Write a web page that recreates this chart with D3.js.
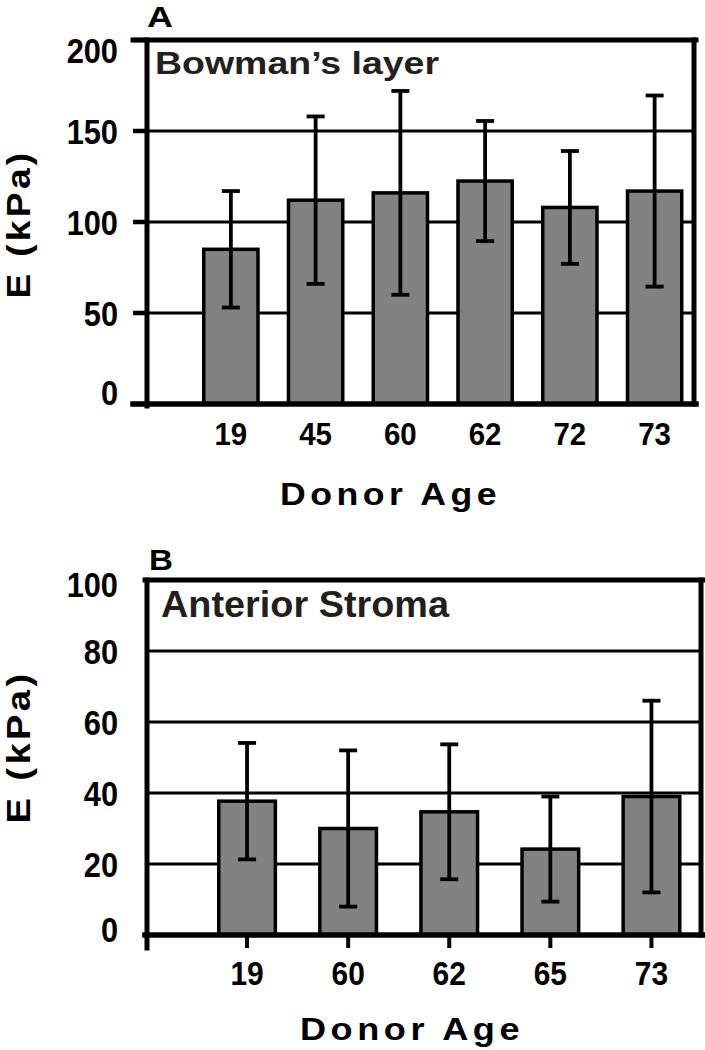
<!DOCTYPE html>
<html>
<head>
<meta charset="utf-8">
<script src="https://cdn.jsdelivr.net/npm/d3@7/dist/d3.min.js"></script>
<style>
  html, body { margin: 0; padding: 0; background: #fff; }
  svg { display: block; }
  text { font-family: "Liberation Sans", Arial, Helvetica, sans-serif; font-weight: bold; }
</style>
</head>
<body>
<svg id="chart" width="705" height="1050"></svg>
<script>
// ---------- Data ----------
const agesA = ["19", "45", "60", "62", "72", "73"];
const meanA = [85, 112, 116, 122.5, 108, 117];
const errA  = [32, 46, 56, 33, 31, 52.5];
const ticksA = [0, 50, 100, 150, 200];

const agesB = ["19", "60", "62", "65", "73"];
const meanB = [37.7, 30, 34.7, 24.2, 39];
const errB  = [16.4, 22, 19, 14.8, 27];
const ticksB = [0, 20, 40, 60, 80, 100];

const svg = d3.select("#chart");

function panel(cfg) {
  const g = svg.append("g");
  const y = d3.scaleLinear().domain([0, cfg.max]).range([cfg.bottom, cfg.top]);
  const x = d3.scaleBand().domain(cfg.ages).range([cfg.xStart, cfg.xEnd])
    .paddingInner(cfg.padIn).paddingOuter(cfg.padIn / 2);

  // gridlines (inner)
  g.selectAll(".grid").data(cfg.ticks.filter(t => t > 0 && t < cfg.max)).join("line")
    .attr("x1", cfg.axisX).attr("x2", cfg.rightX)
    .attr("y1", d => y(d)).attr("y2", d => y(d))
    .attr("stroke", "#000").attr("stroke-width", 3);

  // left ticks (panel A style)
  if (cfg.leftTicks) {
    g.selectAll(".lt").data(cfg.ticks).join("line")
      .attr("x1", cfg.tickLeft).attr("x2", cfg.axisX)
      .attr("y1", d => y(d)).attr("y2", d => y(d))
      .attr("stroke", "#000").attr("stroke-width", 4.5);
  }

  // bars
  const data = cfg.ages.map((a, i) => ({ a, m: cfg.mean[i], e: cfg.err[i] }));
  g.selectAll(".bar").data(data).join("rect")
    .attr("x", d => x(d.a)).attr("width", x.bandwidth())
    .attr("y", d => y(d.m)).attr("height", d => y(0) - y(d.m))
    .attr("fill", "#828282").attr("stroke", "#000").attr("stroke-width", 3.5);

  // error bars
  const cx = d => x(d.a) + x.bandwidth() / 2;
  g.selectAll(".ev").data(data).join("line")
    .attr("x1", cx).attr("x2", cx)
    .attr("y1", d => y(d.m - d.e)).attr("y2", d => y(d.m + d.e))
    .attr("stroke", "#000").attr("stroke-width", 3.8);
  ["p", "n"].forEach(s => {
    g.selectAll(".cap" + s).data(data).join("line")
      .attr("x1", d => cx(d) - 9).attr("x2", d => cx(d) + 9)
      .attr("y1", d => y(s === "p" ? d.m + d.e : d.m - d.e))
      .attr("y2", d => y(s === "p" ? d.m + d.e : d.m - d.e))
      .attr("stroke", "#000").attr("stroke-width", 3.8);
  });

  // frame
  const line = (x1, y1, x2, y2, w) => g.append("line")
    .attr("x1", x1).attr("y1", y1).attr("x2", x2).attr("y2", y2)
    .attr("stroke", "#000").attr("stroke-width", w).attr("stroke-linecap", "square");
  line(cfg.frameLeft, cfg.top, cfg.frameRight, cfg.top, 5);
  line(cfg.frameLeft, cfg.bottom, cfg.frameRight, cfg.bottom, 5.5);
  line(cfg.axisX, cfg.top, cfg.axisX, cfg.axisBottom, 5);
  line(cfg.rightX, cfg.top, cfg.rightX, cfg.bottom, 5);

  // bottom ticks (panel B style)
  if (cfg.bottomTicks) {
    g.selectAll(".bt").data(data).join("line")
      .attr("x1", cx).attr("x2", cx)
      .attr("y1", cfg.bottom).attr("y2", cfg.axisBottom)
      .attr("stroke", "#000").attr("stroke-width", 4);
  }

  // y tick labels
  g.selectAll(".yl").data(cfg.ticks).join("text")
    .attr("transform", d => {
      const c = Math.max(cfg.top + cfg.labTop, Math.min(y(d), cfg.bottom - cfg.labBot));
      return `translate(118,${c + 12.5}) scale(0.88,1)`;
    })
    .attr("text-anchor", "end").attr("font-size", 35).attr("fill", "#000")
    .text(d => d);

  // x tick labels
  g.selectAll(".xl").data(data).join("text")
    .attr("transform", d => `translate(${cx(d)},${cfg.xLabBase}) scale(${cfg.xLabScale},1)`)
    .attr("text-anchor", "middle").attr("font-size", cfg.xLabSize).attr("fill", "#000")
    .text(d => d.a);

  // panel letter
  g.append("text").attr("x", cfg.letterX).attr("y", cfg.letterY)
    .attr("font-size", cfg.letterSize).attr("textLength", cfg.letterW)
    .attr("lengthAdjust", "spacingAndGlyphs").attr("fill", "#000").text(cfg.letter);

  // title
  g.append("text").attr("x", cfg.titleX).attr("y", cfg.titleY)
    .attr("font-size", cfg.titleSize).attr("textLength", cfg.titleW)
    .attr("lengthAdjust", "spacingAndGlyphs")
    .attr("fill", "#231f20").text(cfg.title);

  // x axis title
  g.append("text").attr("x", cfg.xTitleX).attr("y", cfg.xTitleY)
    .attr("font-size", 32).attr("letter-spacing", 4)
    .attr("textLength", cfg.xTitleW).attr("lengthAdjust", "spacingAndGlyphs")
    .attr("fill", "#000").text("Donor Age");

  // y axis title
  g.append("text")
    .attr("transform", `translate(30,${cfg.yTitleC}) rotate(-90)`)
    .attr("text-anchor", "middle").attr("font-size", 34).attr("letter-spacing", 3)
    .attr("textLength", cfg.yTitleW).attr("lengthAdjust", "spacingAndGlyphs")
    .attr("fill", "#000").text("E (kPa)");
}

panel({
  ages: agesA, mean: meanA, err: errA, ticks: ticksA, max: 200,
  top: 40, bottom: 404, axisX: 147, rightX: 694, axisBottom: 406,
  frameLeft: 133, frameRight: 696, tickLeft: 133, leftTicks: true, bottomTicks: false,
  xStart: 188.5, xEnd: 697, padIn: 0.36,
  labTop: 10.5, labBot: 12,
  xLabBase: 445, xLabSize: 31, xLabScale: 0.95,
  letter: "A", letterX: 147, letterY: 27, letterSize: 29, letterW: 26,
  title: "Bowman\u2019s layer", titleX: 155, titleY: 74, titleSize: 32, titleW: 284,
  xTitleX: 280, xTitleY: 505, xTitleW: 221, yTitleC: 224, yTitleW: 149
});

panel({
  ages: agesB, mean: meanB, err: errB, ticks: ticksB, max: 100,
  top: 580, bottom: 935, axisX: 147, rightX: 701, axisBottom: 948,
  frameLeft: 145, frameRight: 703, tickLeft: 147, leftTicks: false, bottomTicks: true,
  xStart: 196.5, xEnd: 702, padIn: 0.44,
  labTop: 4.5, labBot: 6,
  xLabBase: 985, xLabSize: 34, xLabScale: 0.88,
  letter: "B", letterX: 149, letterY: 570, letterSize: 30, letterW: 24,
  title: "Anterior Stroma", titleX: 161, titleY: 617, titleSize: 36, titleW: 288,
  xTitleX: 300, xTitleY: 1040, xTitleW: 224, yTitleC: 747, yTitleW: 153
});
</script>
</body>
</html>
